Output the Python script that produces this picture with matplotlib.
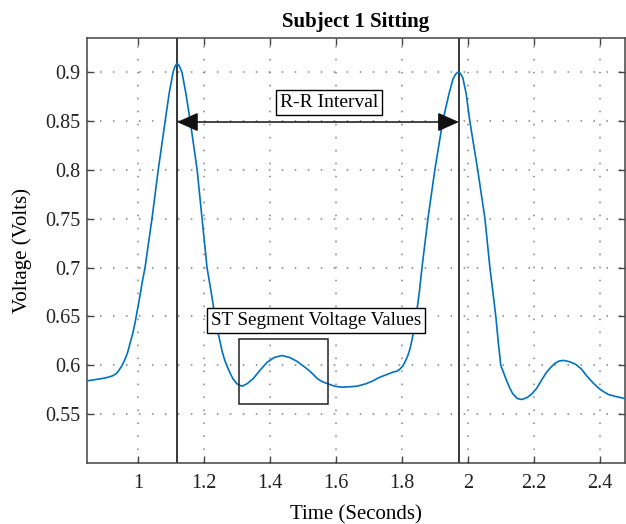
import numpy as np
import matplotlib.pyplot as plt
from matplotlib.patches import Rectangle

# ECG trace, subject 1 sitting
t = [0.845, 0.9, 0.921, 0.932, 0.94, 0.95, 0.96, 0.968, 0.976, 0.984, 0.991,
     0.998, 1.006, 1.013, 1.021, 1.042, 1.061, 1.082, 1.094, 1.106, 1.112,
     1.118, 1.124, 1.133, 1.145, 1.158, 1.179, 1.194, 1.209, 1.224, 1.233,
     1.24, 1.248, 1.255, 1.263, 1.27, 1.279, 1.288, 1.3, 1.315, 1.33, 1.348,
     1.37, 1.391, 1.413, 1.436, 1.46, 1.482, 1.502, 1.521, 1.545, 1.56, 1.576,
     1.597, 1.618, 1.64, 1.664, 1.69, 1.712, 1.728, 1.742, 1.758, 1.773,
     1.785, 1.794, 1.802, 1.809, 1.817, 1.824, 1.832, 1.839, 1.845, 1.853,
     1.861, 1.879, 1.9, 1.924, 1.943, 1.955, 1.963, 1.97, 1.977, 1.985, 1.995,
     2.006, 2.03, 2.052, 2.067, 2.076, 2.085, 2.092, 2.1, 2.109, 2.118, 2.127,
     2.136, 2.15, 2.164, 2.18, 2.195, 2.209, 2.224, 2.239, 2.252, 2.264,
     2.278, 2.291, 2.31, 2.327, 2.345, 2.361, 2.38, 2.397, 2.412, 2.427,
     2.45, 2.476]
v = [0.584, 0.587, 0.589, 0.591, 0.594, 0.599, 0.606, 0.613, 0.623, 0.633, 0.644,
     0.657, 0.672, 0.686, 0.7, 0.75, 0.8, 0.85, 0.878, 0.9, 0.906,
     0.909, 0.907, 0.9, 0.878, 0.85, 0.8, 0.75, 0.7, 0.67, 0.65,
     0.637, 0.625, 0.614, 0.605, 0.599, 0.592, 0.586, 0.581, 0.5786, 0.581, 0.586,
     0.595, 0.603, 0.608, 0.61, 0.608, 0.604, 0.599, 0.594, 0.586, 0.583, 0.581,
     0.5785, 0.5776, 0.578, 0.5786, 0.581, 0.584, 0.587, 0.589, 0.591, 0.593,
     0.594, 0.596, 0.599, 0.603, 0.609, 0.616, 0.628, 0.643, 0.655, 0.675,
     0.7, 0.75, 0.8, 0.85, 0.878, 0.893, 0.898, 0.9, 0.899, 0.894, 0.878,
     0.85, 0.8, 0.75, 0.7, 0.675, 0.65, 0.625, 0.6, 0.592, 0.584, 0.577,
     0.571, 0.566, 0.565, 0.567, 0.571, 0.5765, 0.585, 0.593, 0.598, 0.602,
     0.6045, 0.605, 0.6035, 0.601, 0.596, 0.589, 0.582, 0.5765, 0.573, 0.57,
     0.568, 0.566]

r_peaks = [1.118, 1.973]
rr_level = 0.849
st_box = [1.306, 0.560, 1.576, 0.6265]  # x0, y0, x1, y1

xticks = [1, 1.2, 1.4, 1.6, 1.8, 2, 2.2, 2.4]
xlabels = ['1', '1.2', '1.4', '1.6', '1.8', '2', '2.2', '2.4']
yticks = [0.55, 0.6, 0.65, 0.7, 0.75, 0.8, 0.85, 0.9]
ylabels = ['0.55', '0.6', '0.65', '0.7', '0.75', '0.8', '0.85', '0.9']

plt.rcParams['font.family'] = ['Liberation Serif', 'DejaVu Serif']
plt.rcParams['font.size'] = 14.5

fig = plt.figure(figsize=(6.26, 5.24), dpi=100)
ax = fig.add_axes([0.139, 0.1164, 0.859, 0.8111])

ax.plot(t, v, color='#0072BD', lw=1.2, zorder=3)

for xp in r_peaks:
    ax.axvline(xp, color='black', lw=1.1, zorder=2)

ax.annotate('', xy=(r_peaks[0], rr_level), xytext=(r_peaks[1], rr_level),
            arrowprops=dict(arrowstyle='<|-|>,head_length=0.9,head_width=0.4',
                            color='#111111', lw=1.1, shrinkA=0, shrinkB=0),
            zorder=4)

box = dict(boxstyle='square,pad=0.22', fc='white', ec='black', lw=1)
ax.text(1.579, 0.869, 'R-R Interval', ha='center', va='center', bbox=box,
        fontsize=14, zorder=5)
ax.text(1.539, 0.646, 'ST Segment Voltage Values', ha='center', va='center',
        bbox=box, fontsize=13.7, zorder=5)
ax.add_patch(Rectangle((st_box[0], st_box[1]), st_box[2] - st_box[0],
                       st_box[3] - st_box[1], fill=False, ec='#222222', lw=1.1,
                       zorder=4))

ax.set_xlim(0.845, 2.476)
ax.set_ylim(0.5, 0.935)
ax.set_xticks(xticks)
ax.set_xticklabels(xlabels)
ax.set_yticks(yticks)
ax.set_yticklabels(ylabels)
ax.tick_params(direction='in', top=True, right=True, length=5, width=1,
               color='#444444', labelcolor='#222222', pad=5)
ax.tick_params(axis='x', pad=8)
ax.grid(True, color='#808080', linestyle=(0, (1, 7.5)), lw=1.1)
for s in ax.spines.values():
    s.set_color('#444444')
    s.set_linewidth(1.1)

ax.set_title('Subject 1 Sitting', fontweight='bold', fontsize=15, pad=8)
ax.set_xlabel('Time (Seconds)', fontsize=15, labelpad=9)
ax.set_ylabel('Voltage (Volts)', fontsize=15, labelpad=9)

fig.savefig('out.png', dpi=100)
